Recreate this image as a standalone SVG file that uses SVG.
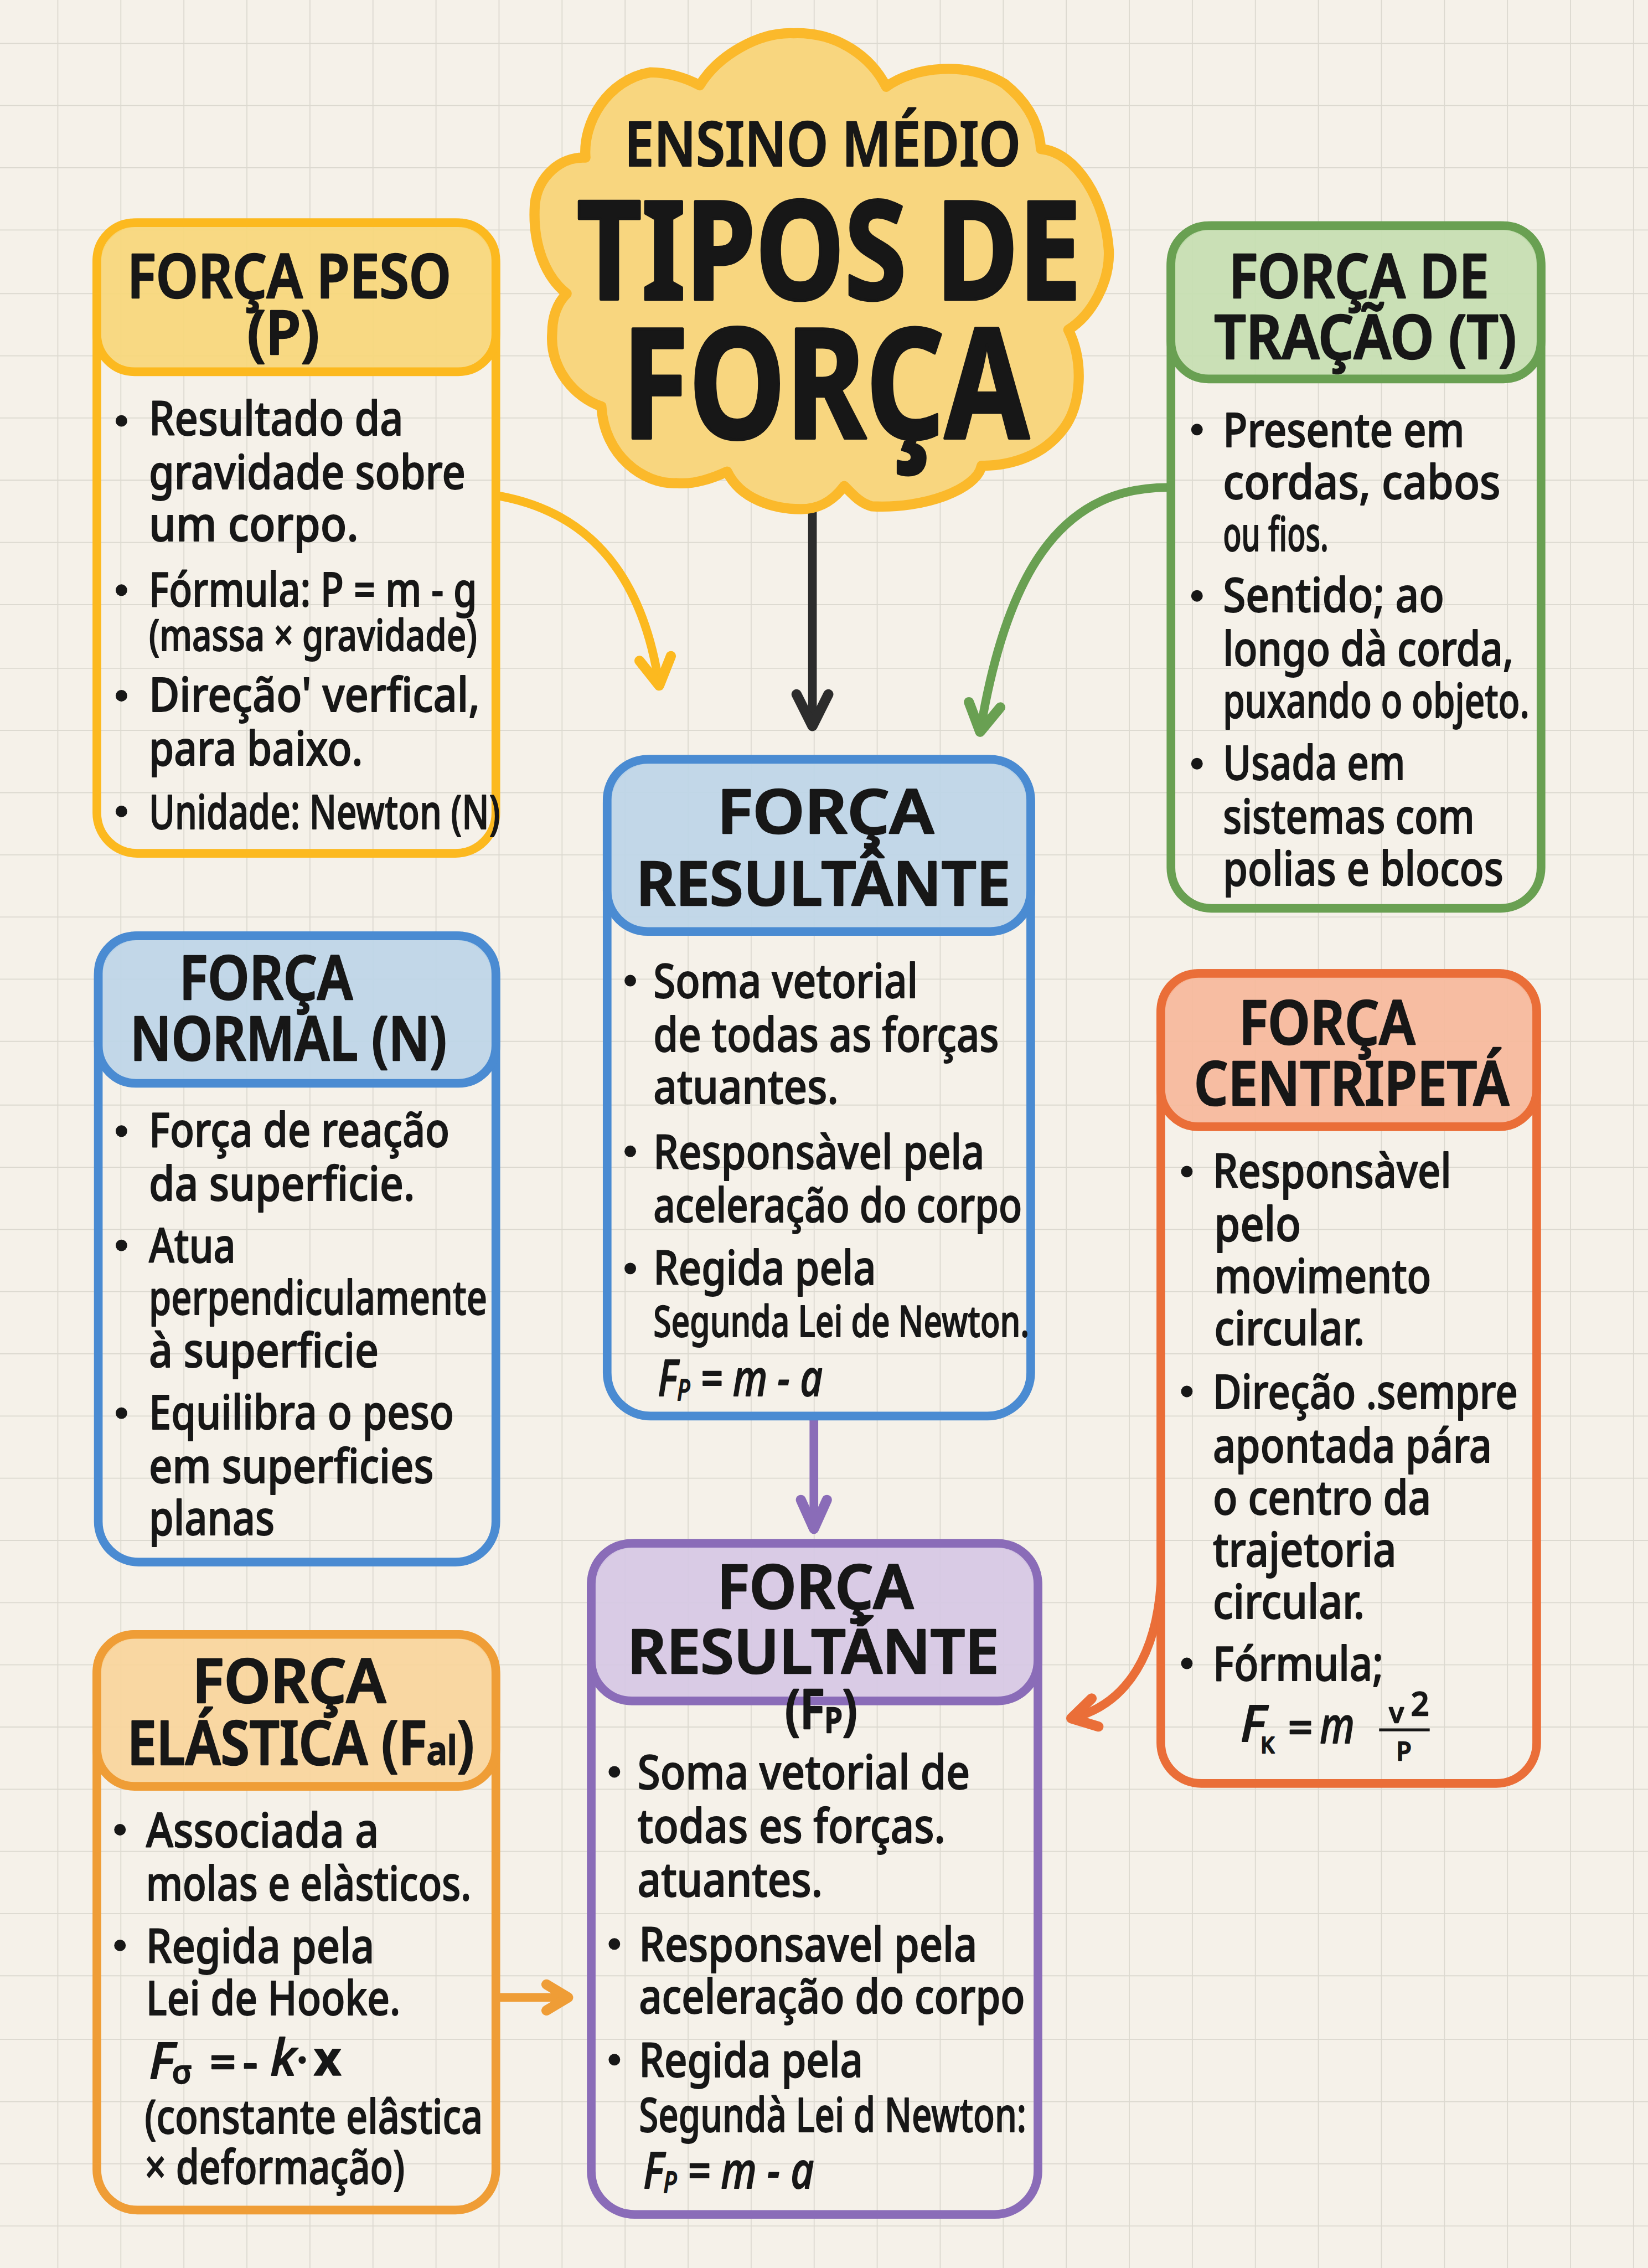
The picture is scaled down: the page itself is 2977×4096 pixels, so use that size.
<svg xmlns="http://www.w3.org/2000/svg" width="2977" height="4096" viewBox="0 0 2977 4096">
<style>
text{font-family:"Noto Sans","Open Sans","Liberation Sans",sans-serif;fill:#171717;stroke:#171717;stroke-linejoin:round}
.t{font-size:33px;stroke-width:.7px;font-weight:500}
.s{font-size:30px;stroke-width:.7px;font-weight:500}
.h{font-size:42px;font-weight:600;stroke-width:1px}
.i{font-size:35px;font-style:italic;stroke-width:.7px;font-weight:500}
.f{stroke-width:.9px;font-weight:500}
.grid path{stroke:#dcd9d0;stroke-width:.7;fill:none}
.body,.head{stroke-width:6;fill:none}
.head{fill-opacity:.93}
.y .body,.y .head{stroke:#fcb91f}.y .head{fill:#f8d77b}
.b .body,.b .head{stroke:#4a8bd2}.b .head{fill:#bdd5e7}
.g .body,.g .head{stroke:#69a052}.g .head{fill:#c6dfb2}
.r .body,.r .head{stroke:#ea6e38}.r .head{fill:#f6b99c}
.p .body,.p .head{stroke:#8a6cb8}.p .head{fill:#d6c8e4}
.o .body,.o .head{stroke:#ef9d36}.o .head{fill:#f9d59c}
.dot{fill:#171717}
#connectors path{fill:none;stroke-width:6;stroke-linecap:round}
.mk{fill:none;stroke-width:7;stroke-linecap:round;stroke-linejoin:round}
</style>
<defs>
<marker id="ay" markerUnits="userSpaceOnUse" orient="auto" markerWidth="40" markerHeight="40" viewBox="-30 -20 40 40" refX="0" refY="0"><path class="mk" stroke="#fcb91f" d="M-19 -11L0 0L-19 11"/></marker>
<marker id="ak" markerUnits="userSpaceOnUse" orient="auto" markerWidth="40" markerHeight="40" viewBox="-30 -20 40 40" refX="0" refY="0"><path class="mk" stroke="#2c2c2c" d="M-22 -11L0 0L-22 11"/></marker>
<marker id="ag" markerUnits="userSpaceOnUse" orient="auto" markerWidth="40" markerHeight="40" viewBox="-30 -20 40 40" refX="0" refY="0"><path class="mk" stroke="#69a052" d="M-19 -11L0 0L-19 11"/></marker>
<marker id="ap" markerUnits="userSpaceOnUse" orient="auto" markerWidth="40" markerHeight="40" viewBox="-30 -20 40 40" refX="0" refY="0"><path class="mk" stroke="#8a6cb8" d="M-20 -9L0 0L-20 9"/></marker>
<marker id="ao" markerUnits="userSpaceOnUse" orient="auto" markerWidth="40" markerHeight="40" viewBox="-30 -20 40 40" refX="0" refY="0"><path class="mk" stroke="#ef9d36" d="M-15 -9L0 0L-15 9"/></marker>
<marker id="ar" markerUnits="userSpaceOnUse" orient="auto" markerWidth="40" markerHeight="40" viewBox="-30 -20 40 40" refX="0" refY="0"><path class="mk" stroke="#ea6e38" d="M-17 -10L0 0L-17 10"/></marker>
</defs>
<rect width="2977" height="4096" fill="#f5f1e9"/>
<g transform="scale(2.6114 2.6122)">
<g class="grid"><path d="M40 0V1568M83.6 0V1568M127.2 0V1568M170.8 0V1568M214.4 0V1568M258 0V1568M301.6 0V1568M345.2 0V1568M388.8 0V1568M432.4 0V1568M476 0V1568M519.6 0V1568M563.2 0V1568M606.8 0V1568M650.4 0V1568M694 0V1568M737.6 0V1568M781.2 0V1568M824.8 0V1568M868.4 0V1568M912 0V1568M955.6 0V1568M999.2 0V1568M1042.8 0V1568M1086.4 0V1568M1130 0V1568"/><path d="M0 30H1140M0 73H1140M0 116H1140M0 159H1140M0 203H1140M0 246H1140M0 289H1140M0 332H1140M0 375H1140M0 418H1140M0 462H1140M0 505H1140M0 548H1140M0 591H1140M0 634H1140M0 677H1140M0 720H1140M0 764H1140M0 807H1140M0 850H1140M0 893H1140M0 936H1140M0 979H1140M0 1022H1140M0 1065H1140M0 1108H1140M0 1151H1140M0 1194H1140M0 1237H1140M0 1280H1140M0 1323H1140M0 1366H1140M0 1410H1140M0 1453H1140M0 1496H1140M0 1539H1140"/></g>

<g id="connectors">
<path marker-end="url(#ay)" stroke="#fcb91f" d="M346 343C410 355 445 400 456 474"/>
<path marker-end="url(#ak)" stroke="#2c2c2c" d="M562 354V502"/>
<path marker-end="url(#ag)" stroke="#69a052" d="M808 337C740 337 698 385 678 506"/>
<path marker-end="url(#ap)" stroke="#8a6cb8" d="M563 982V1057"/>
<path marker-end="url(#ao)" stroke="#ef9d36" d="M346 1381H393"/>
<path marker-end="url(#ar)" stroke="#ea6e38" d="M803 1095C800 1140 782 1178 741 1188"/>
</g>

<g id="titulo">
<path fill="#f8d67f" stroke="#fbb92b" stroke-width="7" stroke-linejoin="round" d="M484 59C497 38 525 22 549 23C580 22 603 40 613 60C632 46 670 42 695 58C710 70 719 85 720 103C745 105 765 140 767 173C768 195 755 218 739 228C750 250 748 280 736 296C722 315 700 322 679 322C676 338 640 352 603 350C595 348 590 342 584 336C575 348 565 352 554 352C535 352 512 345 503 326C490 332 478 335 468 334C445 335 418 315 416 281C398 275 380 255 382 230C382 220 385 210 392 203C378 192 368 170 370 141C372 122 388 108 405 109C403 85 420 55 450 50C462 50 475 54 484 59Z"/>
<text x="432" y="115" font-size="43" font-weight="600" stroke-width=".8" textLength="274" lengthAdjust="spacingAndGlyphs">ENSINO MÉDIO</text>
<text x="399" y="207" font-size="95" font-weight="700" stroke-width="2" textLength="349" lengthAdjust="spacingAndGlyphs">TIPOS DE</text>
<text x="430" y="303" font-size="106" font-weight="700" stroke-width="2" textLength="282" lengthAdjust="spacingAndGlyphs">FORÇA</text>
</g>

<g id="forca-peso" class="y">
<rect class="body" x="67" y="154" width="276" height="436" rx="28"/>
<rect class="head" x="67" y="154" width="276" height="103" rx="26"/>
<text class="h" x="88" y="206" textLength="224" lengthAdjust="spacingAndGlyphs">FORÇA PESO</text>
<text class="h" x="171" y="245" textLength="50" lengthAdjust="spacingAndGlyphs">(P)</text>
<circle class="dot" cx="84" cy="291" r="4"/><circle class="dot" cx="84" cy="408" r="4"/><circle class="dot" cx="84" cy="481" r="4"/><circle class="dot" cx="84" cy="561" r="4"/>
<text class="t" x="103" y="301" textLength="176" lengthAdjust="spacingAndGlyphs">Resultado da</text>
<text class="t" x="103" y="338" textLength="219" lengthAdjust="spacingAndGlyphs">gravidade sobre</text>
<text class="t" x="103" y="374" textLength="145" lengthAdjust="spacingAndGlyphs">um corpo.</text>
<text class="t" x="103" y="419" textLength="227" lengthAdjust="spacingAndGlyphs">Fórmula: P = m - g</text>
<text class="s" x="103" y="450" textLength="227" lengthAdjust="spacingAndGlyphs">(massa × gravidade)</text>
<text class="t" x="103" y="492" textLength="229" lengthAdjust="spacingAndGlyphs">Direção' verfical,</text>
<text class="t" x="103" y="529" textLength="148" lengthAdjust="spacingAndGlyphs">para baixo.</text>
<text class="t" x="103" y="573" textLength="243" lengthAdjust="spacingAndGlyphs">Unidade: Newton (N)</text>
</g>

<g id="forca-normal" class="b">
<rect class="body" x="68" y="647" width="275" height="433" rx="28"/>
<rect class="head" x="68" y="647" width="275" height="102" rx="26"/>
<text class="h" x="124" y="691" textLength="120" lengthAdjust="spacingAndGlyphs">FORÇA</text>
<text class="h" x="90" y="733" textLength="219" lengthAdjust="spacingAndGlyphs">NORMAL (N)</text>
<circle class="dot" cx="84" cy="782" r="4"/><circle class="dot" cx="84" cy="861" r="4"/><circle class="dot" cx="84" cy="977" r="4"/>
<text class="t" x="103" y="793" textLength="208" lengthAdjust="spacingAndGlyphs">Força de reação</text>
<text class="t" x="103" y="830" textLength="184" lengthAdjust="spacingAndGlyphs">da superficie.</text>
<text class="t" x="103" y="873" textLength="60" lengthAdjust="spacingAndGlyphs">Atua</text>
<text class="t" x="103" y="909" textLength="234" lengthAdjust="spacingAndGlyphs">perpendiculamente</text>
<text class="t" x="103" y="945" textLength="159" lengthAdjust="spacingAndGlyphs">à superficie</text>
<text class="t" x="103" y="988" textLength="211" lengthAdjust="spacingAndGlyphs">Equilibra o peso</text>
<text class="t" x="103" y="1025" textLength="197" lengthAdjust="spacingAndGlyphs">em superficies</text>
<text class="t" x="103" y="1061" textLength="87" lengthAdjust="spacingAndGlyphs">planas</text>
</g>

<g id="forca-elastica" class="o">
<rect class="body" x="67" y="1130" width="276" height="398" rx="28"/>
<rect class="head" x="67" y="1130" width="276" height="105" rx="26"/>
<text class="h" x="133" y="1177" font-size="45" textLength="134" lengthAdjust="spacingAndGlyphs">FORÇA</text>
<text class="h" x="88" y="1220" textLength="240" lengthAdjust="spacingAndGlyphs">ELÁSTICA (F<tspan font-size="28">al</tspan>)</text>
<circle class="dot" cx="83" cy="1265" r="4"/><circle class="dot" cx="83" cy="1345" r="4"/>
<text class="t" x="101" y="1277" textLength="161" lengthAdjust="spacingAndGlyphs">Associada a</text>
<text class="t" x="101" y="1314" textLength="225" lengthAdjust="spacingAndGlyphs">molas e elàsticos.</text>
<text class="t" x="101" y="1357" textLength="158" lengthAdjust="spacingAndGlyphs">Regida pela</text>
<text class="t" x="101" y="1393" textLength="176" lengthAdjust="spacingAndGlyphs">Lei de Hooke.</text>
<text class="i" x="103" y="1437">F</text>
<text x="119" y="1440" font-size="22" class="f">σ</text>
<text x="145" y="1437" font-size="32" class="f">=</text>
<text x="168" y="1437" font-size="32" class="f">-</text>
<text class="i" x="187" y="1435">k</text>
<text x="205" y="1435" font-size="30" class="f">·</text>
<text x="217" y="1435" font-size="33" font-weight="700" stroke-width=".6">x</text>
<text class="t" x="100" y="1475" textLength="234" lengthAdjust="spacingAndGlyphs">(constante  elâstica</text>
<text class="t" x="100" y="1510" textLength="180" lengthAdjust="spacingAndGlyphs">× deformação)</text>
</g>

<g id="forca-tracao" class="g">
<rect class="body" x="810" y="156" width="256" height="472" rx="28"/>
<rect class="head" x="810" y="156" width="256" height="106" rx="26"/>
<text class="h" x="850" y="206" textLength="180" lengthAdjust="spacingAndGlyphs">FORÇA DE</text>
<text class="h" x="840" y="248" textLength="209" lengthAdjust="spacingAndGlyphs">TRAÇÃO (T)</text>
<circle class="dot" cx="828" cy="297" r="4"/><circle class="dot" cx="828" cy="412" r="4"/><circle class="dot" cx="828" cy="528" r="4"/>
<text class="t" x="846" y="309" textLength="167" lengthAdjust="spacingAndGlyphs">Presente em</text>
<text class="t" x="846" y="345" textLength="192" lengthAdjust="spacingAndGlyphs">cordas, cabos</text>
<text class="t" x="846" y="381" textLength="73" lengthAdjust="spacingAndGlyphs">ou fios.</text>
<text class="t" x="846" y="423" textLength="153" lengthAdjust="spacingAndGlyphs">Sentido; ao</text>
<text class="t" x="846" y="460" textLength="201" lengthAdjust="spacingAndGlyphs">longo dà corda,</text>
<text class="t" x="846" y="496" textLength="212" lengthAdjust="spacingAndGlyphs">puxando o objeto.</text>
<text class="t" x="846" y="539" textLength="126" lengthAdjust="spacingAndGlyphs">Usada em</text>
<text class="t" x="846" y="576" textLength="174" lengthAdjust="spacingAndGlyphs">sistemas com</text>
<text class="t" x="846" y="612" textLength="194" lengthAdjust="spacingAndGlyphs">polias e blocos</text>
</g>

<g id="forca-centripeta" class="r">
<rect class="body" x="803" y="673" width="260" height="560" rx="28"/>
<rect class="head" x="803" y="673" width="260" height="106" rx="26"/>
<text class="h" x="857" y="722" textLength="122" lengthAdjust="spacingAndGlyphs">FORÇA</text>
<text class="h" x="826" y="764" textLength="218" lengthAdjust="spacingAndGlyphs">CENTRIPETÁ</text>
<circle class="dot" cx="821" cy="810" r="4"/><circle class="dot" cx="821" cy="962" r="4"/><circle class="dot" cx="821" cy="1150" r="4"/>
<text class="t" x="839" y="821" textLength="165" lengthAdjust="spacingAndGlyphs">Responsàvel</text>
<text class="t" x="840" y="858" textLength="60" lengthAdjust="spacingAndGlyphs">pelo</text>
<text class="t" x="840" y="894" textLength="150" lengthAdjust="spacingAndGlyphs">movimento</text>
<text class="t" x="840" y="930" textLength="104" lengthAdjust="spacingAndGlyphs">circular.</text>
<text class="t" x="839" y="974" textLength="211" lengthAdjust="spacingAndGlyphs">Direção .sempre</text>
<text class="t" x="839" y="1011" textLength="193" lengthAdjust="spacingAndGlyphs">apontada pára</text>
<text class="t" x="839" y="1047" textLength="151" lengthAdjust="spacingAndGlyphs">o centro da</text>
<text class="t" x="839" y="1083" textLength="127" lengthAdjust="spacingAndGlyphs">trajetoria</text>
<text class="t" x="839" y="1119" textLength="105" lengthAdjust="spacingAndGlyphs">circular.</text>
<text class="t" x="839" y="1162" textLength="118" lengthAdjust="spacingAndGlyphs">Fórmula;</text>
<text class="i" x="858" y="1204">F</text>
<text x="872" y="1212" font-size="15" class="f">K</text>
<text x="891" y="1205" font-size="30" class="f">=</text>
<text class="i" x="913" y="1205" textLength="24" lengthAdjust="spacingAndGlyphs">m</text>
<text x="961" y="1191" font-size="19" class="f">v</text>
<text x="976" y="1186" font-size="22" class="f">2</text>
<path d="M954 1196H989" stroke="#171717" stroke-width="2" fill="none"/>
<text x="966" y="1217" font-size="17" class="f">P</text>
</g>

<g id="forca-resultante" class="b">
<rect class="body" x="420" y="525" width="293" height="454" rx="30"/>
<rect class="head" x="420" y="525" width="293" height="119" rx="28"/>
<text class="h" x="496" y="576" font-size="46" textLength="150" lengthAdjust="spacingAndGlyphs">FORÇA</text>
<text class="h" x="440" y="626" font-size="46" textLength="259" lengthAdjust="spacingAndGlyphs">RESULTÂNTE</text>
<circle class="dot" cx="436" cy="678" r="4"/><circle class="dot" cx="436" cy="796" r="4"/><circle class="dot" cx="436" cy="877" r="4"/>
<text class="t" x="452" y="690" textLength="183" lengthAdjust="spacingAndGlyphs">Soma vetorial</text>
<text class="t" x="452" y="727" textLength="239" lengthAdjust="spacingAndGlyphs">de todas as forças</text>
<text class="t" x="452" y="763" textLength="128" lengthAdjust="spacingAndGlyphs">atuantes.</text>
<text class="t" x="452" y="808" textLength="229" lengthAdjust="spacingAndGlyphs">Responsàvel pela</text>
<text class="t" x="452" y="845" textLength="255" lengthAdjust="spacingAndGlyphs">aceleração do corpo</text>
<text class="t" x="452" y="888" textLength="154" lengthAdjust="spacingAndGlyphs">Regida pela</text>
<text class="s" x="452" y="924" textLength="260" lengthAdjust="spacingAndGlyphs">Segunda Lei de Newton.</text>
<text class="i" x="455" y="965" textLength="114" lengthAdjust="spacingAndGlyphs">F<tspan font-size="20" dy="3">P</tspan><tspan dy="-3"> = m - a</tspan></text>
</g>

<g id="forca-resultante-fp" class="p">
<rect class="body" x="409" y="1067" width="309" height="464" rx="30"/>
<rect class="head" x="409" y="1067" width="309" height="109" rx="28"/>
<text class="h" x="496" y="1112" font-size="47" textLength="136" lengthAdjust="spacingAndGlyphs">FORÇA</text>
<text class="h" x="434" y="1157" font-size="47" textLength="257" lengthAdjust="spacingAndGlyphs">RESULTÁNTE</text>
<text x="543" y="1195" font-size="38" font-weight="600" stroke-width="1" textLength="50" lengthAdjust="spacingAndGlyphs">(F<tspan font-size="24" dy="3">P</tspan><tspan dy="-3">)</tspan></text>
<circle class="dot" cx="425" cy="1225" r="4"/><circle class="dot" cx="425" cy="1344" r="4"/><circle class="dot" cx="425" cy="1424" r="4"/>
<text class="t" x="441" y="1237" textLength="230" lengthAdjust="spacingAndGlyphs">Soma vetorial de</text>
<text class="t" x="441" y="1274" textLength="213" lengthAdjust="spacingAndGlyphs">todas es forças.</text>
<text class="t" x="441" y="1311" textLength="128" lengthAdjust="spacingAndGlyphs">atuantes.</text>
<text class="t" x="442" y="1356" textLength="234" lengthAdjust="spacingAndGlyphs">Responsavel pela</text>
<text class="t" x="442" y="1392" textLength="267" lengthAdjust="spacingAndGlyphs">aceleração do corpo</text>
<text class="t" x="442" y="1436" textLength="155" lengthAdjust="spacingAndGlyphs">Regida pela</text>
<text class="t" x="442" y="1474" textLength="268" lengthAdjust="spacingAndGlyphs">Segundà Lei d Newton:</text>
<text class="i" x="445" y="1513" textLength="118" lengthAdjust="spacingAndGlyphs">F<tspan font-size="20" dy="3">P</tspan><tspan dy="-3"> = m - a</tspan></text>
</g>
</g>
</svg>
